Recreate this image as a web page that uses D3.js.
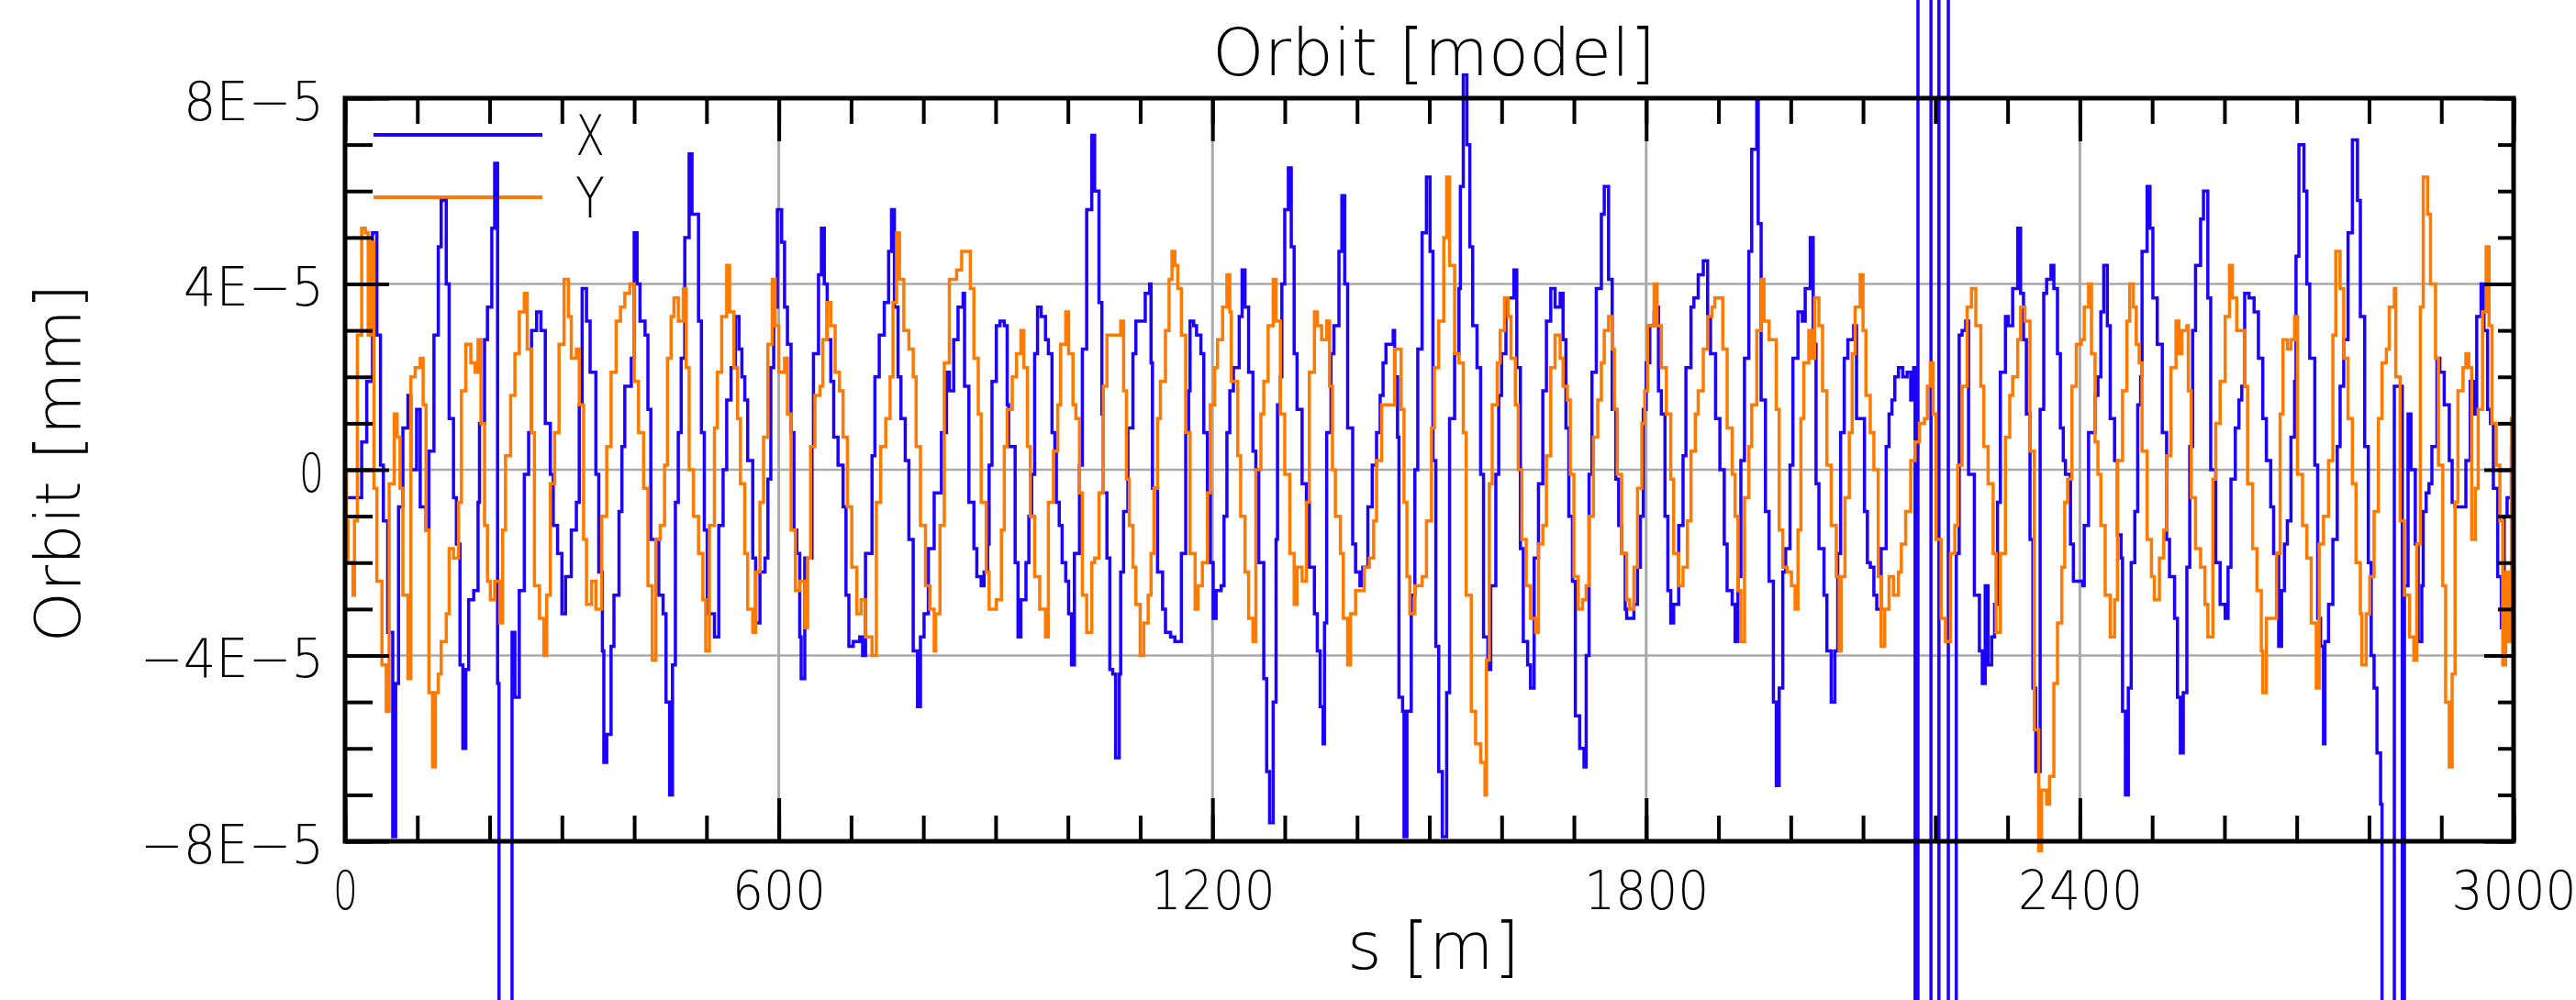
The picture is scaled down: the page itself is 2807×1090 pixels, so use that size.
<!DOCTYPE html>
<html><head><meta charset="utf-8">
<script src="https://cdn.jsdelivr.net/npm/d3@7"></script>
<style>
body{margin:0;background:#fff;overflow:hidden}
svg{display:block}
</style>
</head><body>
<svg id="c" width="2807" height="1090"></svg>
<script>
// ---------------- data (orbit in units of 1E-5 mm, s in m) ----------------
const sX=[0,23,30,38,44,49,53,59,66,70,
74,80,87,91,99,104,112,116,123,129,
133,140,144,150,154,159,163,167,171,178,
184,186,193,197,203,207,211,213,231,235,
241,248,254,258,265,271,277,284,288,294,
300,305,313,320,324,328,334,339,347,351,
356,358,362,368,372,379,383,387,396,400,
404,408,415,419,423,434,440,444,449,453,
457,461,465,470,476,480,489,493,497,501,
511,517,523,528,534,540,545,549,553,557,
564,568,574,581,585,589,593,598,604,608,
612,617,621,625,629,631,636,646,648,655,
659,663,667,672,676,682,689,693,697,703,
712,716,720,729,733,739,746,752,756,760,
765,769,775,780,786,792,796,801,807,815,
825,832,836,842,848,855,857,863,870,874,
880,884,889,891,895,901,906,912,916,918,
927,931,935,942,946,950,954,958,963,969,
973,978,982,984,988,992,997,1001,1005,1009,
1016,1020,1026,1033,1037,1043,1047,1049,1054,1058,
1062,1066,1071,1073,1077,1083,1090,1094,1100,1107,
1113,1115,1117,1124,1131,1135,1142,1148,1157,1163,
1167,1169,1174,1178,1184,1188,1193,1197,1201,1205,
1212,1216,1220,1224,1229,1237,1241,1245,1250,1256,
1260,1264,1271,1275,1279,1284,1288,1290,1294,1296,
1300,1305,1309,1313,1317,1324,1330,1334,1341,1345,
1349,1353,1355,1358,1364,1368,1375,1379,1383,1387,
1394,1398,1404,1408,1415,1421,1427,1432,1436,1440,
1450,1452,1456,1458,1463,1465,1469,1475,1480,1484,
1490,1496,1501,1505,1509,1513,1518,1524,1528,1535,
1541,1543,1547,1552,1556,1560,1566,1571,1575,1581,
1585,1592,1596,1600,1606,1613,1617,1621,1626,1630,
1636,1640,1645,1651,1657,1662,1668,1674,1681,1685,
1689,1693,1698,1702,1708,1714,1717,1721,1725,1731,
1738,1742,1748,1753,1758,1762,1766,1771,1773,1783,
1788,1792,1796,1800,1805,1811,1815,1817,1821,1826,
1830,1834,1838,1845,1851,1855,1862,1866,1872,1879,
1885,1889,1896,1902,1908,1912,1919,1923,1927,1931,
1936,1942,1946,1953,1955,1959,1965,1970,1976,1980,
1984,1989,1993,1999,2003,2010,2016,2020,2027,2031,
2035,2039,2046,2050,2056,2061,2065,2069,2074,2079,
2087,2091,2098,2102,2106,2110,2115,2119,2125,2132,
2136,2140,2144,2149,2155,2161,2166,2170,2172,2176,
2194,2205,2218,2229,2233,2237,2242,2246,2254,2261,
2265,2269,2273,2278,2282,2286,2290,2297,2301,2307,
2314,2318,2322,2326,2331,2335,2339,2345,2350,2354,
2360,2364,2369,2373,2377,2380,2387,2391,2397,2404,
2406,2412,2421,2425,2429,2433,2438,2442,2448,2452,
2457,2459,2463,2467,2471,2476,2480,2484,2486,2493,
2497,2501,2507,2514,2520,2524,2531,2535,2539,2543,
2548,2552,2556,2560,2567,2571,2577,2581,2588,2594,
2601,2605,2609,2615,2620,2624,2628,2634,2641,2647,
2653,2658,2664,2668,2675,2679,2683,2687,2692,2697,
2699,2703,2710,2714,2718,2725,2729,2733,2737,2739,
2744,2750,2756,2760,2765,2771,2777,2784,2788,2794,
2799,2803,2807,2811,2816,2818,2835,2841,2846,2849,
2854,2858,2864,2868,2873,2875,2879,2883,2887,2894,
2898,2904,2911,2915,2919,2928,2934,2940,2945,2949,
2955,2959,2964,2968,2972,2978,2983,2987,2991,2997,
3000];
const xOrbit=[-0.6,0.6,1.9,5.1,2.9,0.1,-1.1,-3.5,-7.9,-4.6,
-0.8,0.9,1.6,0.0,1.3,-0.8,-1.3,0.4,2.9,4.8,
5.8,4.0,1.1,-0.6,-1.6,-4.2,-6.0,-4.3,-2.8,-2.6,
-0.7,1.0,2.8,3.5,5.2,6.6,-4.6,-30,-3.5,-4.9,
-2.6,-0.1,0.8,3.0,3.4,3.0,1.0,-0.1,-1.2,-1.8,
-3.1,-2.3,-1.3,-0.7,1.4,3.9,3.2,2.1,-0.1,-2.2,
-3.9,-6.3,-5.7,-3.8,-2.7,-0.9,0.5,1.8,2.4,5.1,
4.0,3.2,2.9,1.3,-1.5,-2.7,-3.1,-5.0,-7.0,-4.2,
-0.7,0.8,2.4,5.0,6.8,5.5,3.2,0.8,-1.3,-3.1,
-3.6,-1.2,0.0,1.5,2.2,3.3,2.6,2.0,1.5,0.2,
-1.9,-3.3,-2.2,-1.9,-0.2,2.2,3.5,5.6,4.9,3.5,
2.7,0.8,-1.3,-1.8,-3.6,-4.5,-1.9,0.5,2.5,4.2,
5.2,4.0,2.8,1.9,0.7,0.1,-0.8,-2.7,-3.8,-3.7,
-3.6,-4.0,-1.8,0.3,2.0,2.9,3.6,4.7,5.6,3.5,
2.0,1.1,0.2,-1.5,-3.9,-5.1,-3.6,-3.1,-1.7,-0.5,
0.8,2.1,1.7,2.8,3.5,3.8,1.8,-0.7,-1.7,-2.3,
-2.5,-2.2,-1.6,0.1,1.9,3.1,3.2,3.1,1.4,0.5,
-2.0,-3.6,-2.8,-2.0,-1.0,-0.1,2.5,3.5,3.3,2.8,
2.5,0.8,0.4,-0.7,-1.2,-2.0,-2.4,-3.1,-4.2,-1.8,
0.1,2.6,5.6,7.2,6.0,3.6,1.2,-0.5,-1.9,-4.3,
-4.4,-6.2,-4.4,-2.2,-0.9,0.9,2.5,3.2,3.2,3.8,
4.0,2.3,-0.4,-2.2,-3.0,-3.5,-3.6,-3.7,-1.8,0.8,
1.7,3.2,3.1,2.9,2.5,0.8,-0.5,-2.0,-3.2,-2.6,
-2.5,-1.0,0.8,1.7,2.2,3.3,4.3,3.5,2.1,0.4,
0.0,-2.0,-4.5,-6.5,-7.6,-5.0,-1.5,1.4,2.0,4.0,
5.6,6.5,4.8,2.5,1.3,-0.3,-0.7,-2.1,-3.1,-3.9,
-5.1,-5.9,-3.3,0.8,2.5,3.1,4.7,5.9,4.0,0.9,
-1.6,-2.2,-2.5,-2.1,-0.8,0.1,0.8,1.6,2.3,2.7,
3.0,2.0,0.7,-4.9,-5.2,-7.9,-5.2,-2.7,0.0,2.6,
5.1,6.3,4.7,0.2,-3.8,-6.5,-7.9,-4.8,1.1,2.5,
3.9,6.1,8.5,7.0,4.8,3.1,2.2,-0.1,-3.6,-4.3,
-2.5,-0.1,1.6,2.5,3.7,3.7,4.3,2.2,-1.7,-3.7,
-4.2,-4.7,-1.9,-0.3,1.7,3.2,3.9,3.5,3.8,2.8,
0.9,-1.0,-2.4,-5.3,-6.0,-6.4,-4.0,-0.1,2.1,3.9,
5.5,6.1,4.1,1.3,-0.2,-1.2,-1.8,-3.0,-3.2,-2.9,
-2.1,-1.0,1.3,2.3,3.1,3.4,3.5,1.7,1.2,-1.0,
-2.6,-3.3,-2.9,-1.2,0.3,2.2,3.5,3.7,4.2,4.5,
3.3,2.5,1.1,0.0,-1.6,-2.6,-2.9,-3.7,-2.3,0.2,
2.4,4.7,6.9,8.0,5.3,1.5,-0.9,-2.4,-5.0,-6.8,
-4.7,-2.2,-1.7,0.1,2.4,3.4,3.2,3.9,5.0,2.7,
-0.3,-1.7,-2.7,-3.9,-5.0,-3.9,-1.8,0.8,2.4,2.8,
3.1,1.1,1.1,-0.9,-2.0,-2.1,-2.7,-3.0,-1.7,0.5,
1.2,1.5,2.0,2.2,2.0,2.1,1.5,2.2,-30,30,
-30,30,-30,-1.8,2.9,3.0,3.2,-0.1,-2.7,-3.9,
-4.6,-2.5,-4.2,-3.6,-2.9,-0.7,2.1,3.3,3.1,3.9,
5.2,3.8,2.8,1.2,-1.5,-4.7,-6.5,1.3,3.8,4.1,
4.4,3.9,2.5,0.9,0.2,-0.1,-1.6,-2.4,-2.4,-2.5,
-1.2,0.8,1.6,2.0,3.4,4.4,3.1,1.1,0.2,-1.4,
-1.9,-5.2,-7.0,-4.7,-2.0,-0.9,1.4,2.0,4.7,6.1,
5.2,3.7,2.7,0.8,-1.5,-2.3,-3.2,-4.9,-6.1,-4.8,
-2.1,0.5,3.0,4.4,5.4,6.0,3.7,0.0,-2.0,-2.9,
-3.2,-2.1,-0.2,0.9,1.5,1.8,3.8,3.7,3.4,2.4,
1.1,0.2,-0.8,-1.8,-3.8,-2.6,-1.6,-1.1,0.7,1.9,
4.6,7.0,6.0,4.0,2.4,0.1,-3.2,-3.8,-5.9,-3.7,
-2.9,-1.5,0.5,1.8,2.8,5.1,7.1,5.8,3.3,0.5,
-2.0,-4.0,-4.7,-6.1,-7.2,-30,1.8,1.8,-30,-2.5,
1.2,0.0,-1.6,-3.7,-2.5,-0.9,-0.5,-0.3,0.5,2.4,
2.1,1.4,0.2,-0.7,-0.8,-0.8,0.2,1.9,1.2,3.3,
4.0,3.0,1.3,1.0,-0.4,-2.3,-3.4,-1.0,-0.6,0.5,
1.6];
const sY=[0,2,4,11,13,17,23,28,32,36,
40,44,51,57,61,68,72,76,80,87,
91,97,104,108,112,116,121,125,129,133,
140,144,150,157,161,167,174,180,184,188,
193,197,201,207,214,218,222,229,235,241,
248,252,258,262,269,275,279,284,290,296,
303,309,313,320,324,330,334,341,347,355,
362,368,375,381,387,394,400,406,413,419,
425,430,436,442,446,451,455,461,468,472,
476,482,489,495,499,504,511,515,521,528,
532,538,543,547,553,557,564,568,574,579,
585,591,595,600,608,612,617,623,629,636,
640,644,650,657,661,667,672,678,684,689,
695,701,708,714,720,729,735,741,748,754,
758,763,767,773,780,786,790,796,803,809,
815,817,823,829,836,846,853,859,865,870,
876,880,887,891,901,908,912,916,923,929,
935,939,944,948,954,961,969,973,980,986,
990,997,1001,1007,1011,1016,1020,1026,1033,1037,
1043,1049,1054,1066,1073,1077,1081,1085,1090,1094,
1100,1105,1111,1115,1119,1124,1128,1135,1140,1144,
1148,1152,1157,1163,1169,1176,1180,1186,1193,1197,
1203,1207,1214,1220,1224,1226,1235,1239,1245,1250,
1256,1260,1267,1271,1277,1284,1288,1294,1300,1307,
1313,1317,1324,1330,1334,1341,1345,1351,1358,1362,
1366,1370,1377,1381,1387,1391,1398,1410,1417,1423,
1427,1434,1446,1452,1456,1461,1465,1469,1473,1480,
1490,1496,1503,1507,1513,1520,1524,1528,1535,1541,
1547,1551,1558,1564,1571,1577,1579,1583,1587,1594,
1598,1604,1609,1613,1619,1623,1628,1634,1640,1647,
1651,1657,1662,1668,1674,1681,1685,1691,1695,1700,
1706,1712,1717,1721,1727,1733,1738,1742,1748,1753,
1756,1760,1766,1773,1777,1783,1788,1794,1798,1802,
1811,1815,1821,1828,1834,1838,1845,1851,1857,1862,
1868,1872,1879,1885,1891,1895,1902,1906,1912,1919,
1923,1927,1931,1936,1942,1946,1953,1959,1963,1970,
1976,1980,1984,1989,1995,2001,2006,2010,2014,2018,
2025,2029,2033,2039,2044,2050,2056,2063,2067,2070,
2075,2081,2085,2089,2096,2100,2104,2110,2115,2121,
2125,2130,2136,2142,2149,2153,2159,2166,2172,2178,
2185,2189,2193,2197,2201,2208,2214,2221,2227,2231,
2237,2244,2250,2256,2263,2267,2273,2280,2284,2290,
2297,2303,2307,2314,2318,2324,2331,2337,2343,2347,
2354,2358,2364,2369,2375,2379,2383,2389,2395,2402,
2406,2412,2416,2421,2425,2429,2435,2442,2448,2452,
2459,2465,2469,2474,2478,2482,2486,2493,2499,2503,
2510,2516,2520,2526,2533,2537,2541,2548,2550,2554,
2560,2567,2573,2577,2584,2588,2594,2601,2607,2611,
2617,2624,2628,2632,2639,2645,2651,2653,2658,2668,
2672,2677,2681,2687,2692,2697,2701,2708,2714,2720,
2727,2731,2737,2744,2750,2754,2760,2765,2771,2777,
2782,2788,2790,2796,2801,2807,2813,2818,2824,2828,
2835,2837,2843,2849,2856,2862,2866,2871,2875,2881,
2885,2892,2896,2902,2906,2911,2915,2919,2923,2930,
2934,2938,2942,2947,2951,2957,2962,2966,2970,2976,
2981,2985,2989,2993,2997,3000];
const yOrbit=[0.0,-1.1,-2.0,-2.7,-1.1,2.9,5.2,5.1,2.9,4.9,
-0.4,-2.4,-4.2,-5.2,-0.3,1.2,0.7,-0.4,-2.7,-4.5,
2.0,2.2,2.4,1.4,-1.3,-4.8,-6.4,-4.8,-4.4,-3.7,
-3.1,-1.7,-1.9,-0.7,1.7,2.7,2.3,2.1,2.8,1.0,
-1.2,-2.4,-2.8,-2.4,-3.3,-1.3,0.3,1.6,2.5,3.4,
3.8,2.6,0.8,-2.5,-3.2,-4.0,-2.7,-0.3,0.8,2.7,
4.1,3.3,2.4,2.6,1.4,-1.5,-2.9,-2.4,-3.0,-1.0,
0.5,2.1,3.2,3.5,3.8,4.0,1.9,0.8,-0.4,-2.5,
-4.1,-1.5,-1.2,0.1,2.4,3.3,3.7,3.2,3.9,2.2,
0.0,-1.0,-1.8,-2.8,-3.9,-1.2,0.9,2.1,3.3,4.4,
3.4,2.2,1.1,-0.3,-1.8,-3.0,-3.5,-2.2,-0.7,0.7,
2.7,4.1,3.1,2.1,2.4,1.2,-1.3,-2.6,-2.4,-3.4,
-1.9,0.5,1.6,1.8,2.8,3.6,3.1,2.1,1.7,0.7,
-0.8,-2.1,-3.1,-2.8,-3.6,-4.0,-0.7,0.5,1.1,2.0,
3.6,5.1,4.1,3.0,2.6,2.0,0.5,-1.2,-2.5,-3.0,
-3.9,-3.1,-1.2,2.3,4.1,4.3,4.7,4.7,3.9,2.4,
1.2,-0.7,-2.2,-3.0,-2.8,-1.3,0.5,1.3,2.0,2.5,
3.0,2.2,0.5,-1.0,-2.3,-3.0,-3.6,-0.7,0.4,1.4,
2.7,3.4,2.5,1.4,1.1,-0.5,-2.7,-3.5,-2.0,-1.9,
-0.5,1.8,2.9,2.9,3.2,1.7,-0.2,-1.2,-2.1,-2.9,
-4.0,-3.3,-2.7,-1.8,-0.4,1.1,1.9,3.0,4.1,4.7,
4.4,3.9,2.9,0.8,-1.8,-3.0,-2.5,-2.0,-0.5,1.4,
2.2,2.8,3.5,4.2,3.4,1.9,0.3,-1.0,-2.2,-3.2,
-3.7,0.0,1.2,1.9,3.1,4.1,3.2,1.2,-0.1,-1.8,
-2.9,-2.1,-2.4,-0.7,2.1,3.4,3.1,2.8,3.2,1.8,
0.0,-1.0,-1.8,-3.2,-4.2,-3.1,-2.6,-2.1,-1.9,-1.1,
0.2,1.4,1.4,2.6,2.6,1.3,-0.7,-2.3,-3.1,-2.5,
-2.3,-1.1,0.9,2.2,3.2,5.0,6.3,4.4,2.5,2.3,
0.8,-2.7,-5.2,-5.9,-6.3,-7.0,-4.1,-0.3,1.4,2.3,
3.0,3.7,3.3,2.4,1.4,0.0,-1.5,-2.5,-3.2,-3.5,
-1.6,-1.2,0.3,2.2,2.9,2.4,1.8,1.5,-0.1,-2.3,
-3.0,-2.8,-2.5,-1.0,0.7,1.5,2.3,3.0,3.3,2.6,
1.3,-0.1,-1.8,-2.8,-3.0,-2.1,-0.4,1.0,1.7,3.1,
4.0,3.1,2.2,1.2,-0.2,-1.8,-2.5,-2.1,-1.1,0.4,
1.2,1.7,2.6,3.3,3.5,3.7,3.7,2.6,0.9,-0.1,
-1.0,-2.6,-3.7,-0.6,0.5,1.4,3.0,4.1,3.2,2.8,
2.8,1.3,-1.3,-2.1,-2.2,-2.5,-3.0,-1.3,1.1,2.3,
3.0,2.4,3.7,3.1,1.7,0.1,-1.2,-2.3,-3.9,-2.3,
-0.6,0.8,2.5,3.5,4.2,3.0,1.6,0.8,0.0,-2.3,
-3.8,-3.0,-2.3,-2.7,-2.2,-1.6,-0.9,0.2,0.6,1.0,
1.1,1.8,2.3,1.2,-1.5,-3.2,-3.7,-1.8,-1.2,0.1,
1.8,3.5,3.9,3.1,1.8,0.5,-0.3,-1.8,-3.5,-1.8,
0.7,1.6,2.0,2.8,3.5,3.2,0.4,-5.6,-8.2,-6.9,
-7.2,-6.6,-4.6,-3.3,-2.1,-0.7,-0.2,1.8,2.7,2.8,
3.5,4.0,2.5,0.6,-0.1,-1.2,-2.7,-3.6,-2.8,0.2,
1.7,3.2,4.0,3.5,2.7,2.3,0.4,-1.5,-2.3,-2.8,
-1.9,-1.3,0.3,2.2,3.2,2.5,3.0,3.1,1.7,-0.6,
-1.7,-2.1,-2.9,-3.6,-0.2,1.0,1.9,3.3,4.4,3.7,
3.0,3.0,1.8,-0.3,-1.7,-2.6,-3.9,-4.8,-3.2,-3.2,
-1.8,1.2,2.8,2.6,2.8,3.3,-0.1,-1.2,-1.9,-3.3,
-4.7,-1.6,-1.0,0.2,2.9,4.7,3.9,2.4,1.1,-0.3,
-2.0,-3.1,-4.2,-3.1,-2.3,-0.9,1.1,2.3,2.6,3.5,
3.9,2.0,-1.1,-2.7,-3.6,-4.1,-1.6,3.5,6.3,5.5,
4.0,2.4,0.1,-2.5,-5.0,-6.4,-4.4,-0.7,1.7,2.2,
2.5,2.2,-1.5,-0.4,1.3,3.4,4.8,3.1,1.0,0.1,
-1.1,-4.2,-2.2,-3.7,1.1,2.5];

const seriesNames=["X","Y"];
const seriesColors=["#1c00ff","#ff7a00"];
const xTickValues=[0,600,1200,1800,2400,3000];
const xTickLabels=["0","600","1200","1800","2400","3000"];
const xMinorTicks=d3.range(0,3001,100);
const yTickValues=[8,4,0,-4,-8];
const yTickLabels=["8E\u22125","4E\u22125","0","\u22124E\u22125","\u22128E\u22125"];
const yMinorTicks=d3.range(-8,8.5,1);
const xGridValues=[600,1200,1800,2400];
const yGridValues=[4,0,-4];
const titleText="Orbit [model]";
const xTitle="s [m]";
const yTitle="Orbit [mm]";

// ---------------- layout ----------------
const FONT='"DejaVu Sans", sans-serif';
const FW=200;
const L=376,R=2739,T=107,B=917;
const svg=d3.select("#c");
const x=d3.scaleLinear().domain([0,3000]).range([L,R]);
const y=d3.scaleLinear().domain([-8,8]).range([B,T]);

// grid
svg.append("g").selectAll("line").data(xGridValues).join("line")
  .attr("x1",d=>x(d)).attr("x2",d=>x(d)).attr("y1",T).attr("y2",B)
  .attr("stroke","#aaaaaa").attr("stroke-width",3);
svg.append("g").selectAll("line").data(yGridValues).join("line")
  .attr("x1",L).attr("x2",R).attr("y1",d=>y(d)).attr("y2",d=>y(d))
  .attr("stroke","#aaaaaa").attr("stroke-width",2.5);

// legend
const leg=svg.append("g");
[0,1].forEach(i=>{
  const ly=147+i*68;
  leg.append("line").attr("x1",407).attr("x2",591).attr("y1",ly).attr("y2",ly)
    .attr("stroke",seriesColors[i]).attr("stroke-width",4);
  leg.append("text").attr("x",643).attr("y",ly+22).attr("text-anchor","middle")
    .attr("font-family",FONT).attr("font-weight",FW).attr("font-size",60).attr("textLength",32)
    .attr("lengthAdjust","spacingAndGlyphs").text(seriesNames[i]);
});

// data
const line=d3.line().curve(d3.curveStepAfter).x(d=>x(d[0])).y(d=>y(d[1]));
svg.append("path").datum(d3.zip(sX,xOrbit)).attr("d",line)
  .attr("fill","none").attr("stroke",seriesColors[0]).attr("stroke-width",3.5);
svg.append("path").datum(d3.zip(sY,yOrbit)).attr("d",line)
  .attr("fill","none").attr("stroke",seriesColors[1]).attr("stroke-width",3.5);

// ticks
function addAxis(gen,tr){
  const g=svg.append("g").attr("transform",tr).call(gen);
  g.select(".domain").remove();
  g.selectAll(".tick line").attr("stroke","#000").attr("stroke-width",4);
  g.selectAll("text").attr("font-family",FONT).attr("font-weight",FW).attr("font-size",58).attr("fill","#000");
  return g;
}
addAxis(d3.axisBottom(x).tickValues(xMinorTicks).tickSize(-28).tickFormat(""),`translate(0,${B})`);
const gxb=addAxis(d3.axisBottom(x).tickValues(xTickValues).tickSize(-47).tickPadding(33)
  .tickFormat((d,i)=>xTickLabels[i]),`translate(0,${B})`);
gxb.selectAll("text").each(function(){
  const n=this.textContent.length;
  d3.select(this).attr("textLength",n===1?27:34*n).attr("lengthAdjust","spacingAndGlyphs");
});
addAxis(d3.axisTop(x).tickValues(xMinorTicks).tickSize(-28).tickFormat(""),`translate(0,${T})`);
addAxis(d3.axisTop(x).tickValues(xTickValues).tickSize(-47).tickFormat(""),`translate(0,${T})`);
addAxis(d3.axisLeft(y).tickValues(yMinorTicks).tickSize(-30).tickFormat(""),`translate(${L},0)`);
const gyl=addAxis(d3.axisLeft(y).tickValues(yTickValues).tickSize(-48).tickPadding(23)
  .tickFormat((d,i)=>yTickLabels[i]),`translate(${L},0)`);
gyl.selectAll("text").attr("dy","0.4em").each(function(){
  const n=this.textContent.length;
  d3.select(this).attr("textLength",n===1?27:(n===4?153:200)).attr("lengthAdjust","spacingAndGlyphs");
});
addAxis(d3.axisRight(y).tickValues(yMinorTicks).tickSize(-17).tickFormat(""),`translate(${R},0)`);
addAxis(d3.axisRight(y).tickValues(yTickValues).tickSize(-32).tickFormat(""),`translate(${R},0)`);

// frame
svg.append("rect").attr("x",L).attr("y",T).attr("width",R-L).attr("height",B-T)
  .attr("fill","none").attr("stroke","#000").attr("stroke-width",5);

// titles
function title(sel){return sel.attr("font-family",FONT).attr("font-weight",FW).attr("lengthAdjust","spacingAndGlyphs");}
title(svg.append("text").attr("x",1493).attr("y",-15).attr("font-size",71)
  .attr("textLength",116)).text("[m]");
title(svg.append("text").attr("x",1321).attr("y",82).attr("font-size",71)
  .attr("textLength",483)).text(titleText);
title(svg.append("text").attr("x",1468).attr("y",1056).attr("font-size",71)
  .attr("textLength",188)).text(xTitle);
title(svg.append("text").attr("transform","translate(87,505) rotate(-90)").attr("text-anchor","middle")
  .attr("font-size",68).attr("textLength",391)).text(yTitle);
</script>
</body></html>
